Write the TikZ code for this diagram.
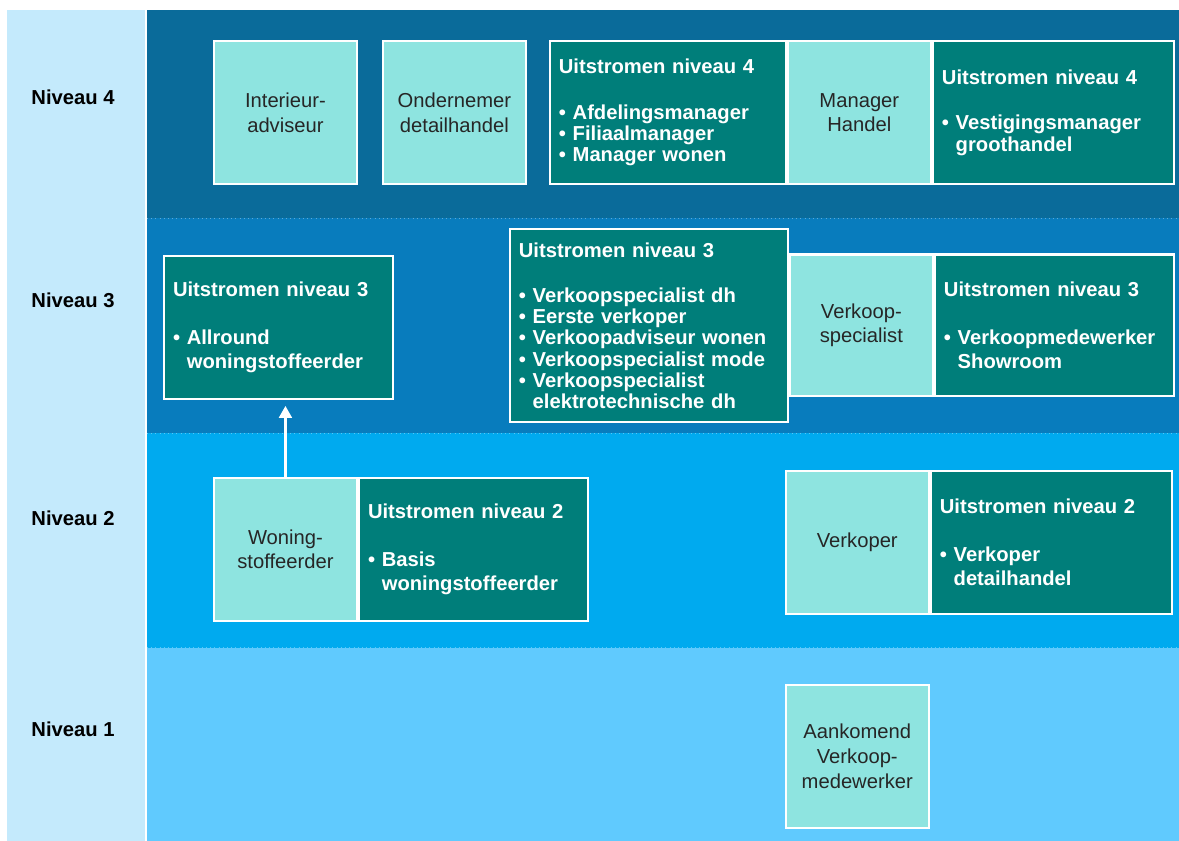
\documentclass[tikz,border=0pt]{standalone}
\usepackage{fontspec}
\setmainfont{Liberation Sans}
\usetikzlibrary{arrows.meta}
\definecolor{kolom}{HTML}{C4EAFC}
\definecolor{niv4}{HTML}{0A6B9A}
\definecolor{niv3}{HTML}{087CBD}
\definecolor{niv2}{HTML}{00AAEF}
\definecolor{niv1}{HTML}{60CAFE}
\definecolor{beroep}{HTML}{8EE4E0}
\definecolor{uitstroom}{HTML}{007E7A}
\newcommand{\punt}{\textbullet\ }
\newcommand{\verder}{\phantom{\textbullet\ }}
\tikzset{
  beroepvak/.style={draw=white, line width=1.2pt, fill=beroep, text=black!85,
    align=center, inner sep=0pt, minimum width=2.86cm, minimum height=2.86cm,
    font=\fontsize{11.5}{14}\selectfont},
  uitvak/.style={draw=white, line width=1.2pt, fill=uitstroom, text=white,
    align=left, text width=#1, inner xsep=0.18cm, inner ysep=0pt,
    minimum height=2.86cm, font=\bfseries\fontsize{11.5}{12}\selectfont},
  ruim/.style={font=\bfseries\fontsize{11.5}{13.6}\selectfont},
  niveaulabel/.style={font=\bfseries\fontsize{11.5}{14}\selectfont},
  bandgrens/.style={white, opacity=0.35, line width=0.4pt, dotted}
}
\begin{document}
\begin{tikzpicture}[x=0.02cm, y=-0.02cm]
  % Achtergrond en niveaubanden
  \fill[white] (0,0) rectangle (1179,841);
  \fill[kolom] (7,10) rectangle (145,841);
  \fill[niv4] (147,10) rectangle (1179,218);
  \fill[niv3] (147,218) rectangle (1179,433);
  \fill[niv2] (147,433) rectangle (1179,648);
  \fill[niv1] (147,648) rectangle (1179,841);
  \foreach \y in {218,433,648}
    \draw[bandgrens] (147,\y) -- (1179,\y);
  % Niveaus
  \node[niveaulabel] (label4) at (73,97) {Niveau 4};
  \node[niveaulabel] (label3) at (73,300) {Niveau 3};
  \node[niveaulabel] (label2) at (73,518) {Niveau 2};
  \node[niveaulabel] (label1) at (73,729) {Niveau 1};
  % Niveau 4
  \node[beroepvak, anchor=north west] (interieur) at (213,40) {Interieur-\\adviseur};
  \node[beroepvak, anchor=north west] (ondernemer) at (382,40) {Ondernemer\\detailhandel};
  \node[uitvak=4.36cm, anchor=north west] (uit4links) at (549,40)
    {Uitstromen niveau 4\\[14pt]\punt Afdelingsmanager\\\punt Filiaalmanager\\\punt Manager wonen};
  \node[beroepvak, anchor=north west] (manager) at (uit4links.north east) {Manager\\Handel};
  \node[uitvak=4.46cm, anchor=north west] (uit4rechts) at (manager.north east)
    {Uitstromen niveau 4\\[14pt]\punt Vestigingsmanager\\\verder groothandel};
  % Niveau 3
  \node[uitvak=4.22cm, ruim, anchor=north west] (uit3links) at (163,255)
    {Uitstromen niveau 3\\[14pt]\punt Allround\\\verder woningstoffeerder};
  \node[uitvak=5.20cm, minimum height=3.86cm, anchor=north west] (uit3midden) at (509,228)
    {Uitstromen niveau 3\\[14pt]\punt Verkoopspecialist dh\\\punt Eerste verkoper\\
     \punt Verkoopadviseur wonen\\\punt Verkoopspecialist mode\\\punt Verkoopspecialist\\
     \verder elektrotechnische dh};
  \node[beroepvak, minimum height=2.84cm, anchor=west] (verkoopspec) at (uit3midden.east) {Verkoop-\\specialist};
  \node[uitvak=4.42cm, ruim, minimum height=2.84cm, anchor=west] (uit3rechts) at (verkoopspec.east)
    {Uitstromen niveau 3\\[14pt]\punt Verkoopmedewerker\\\verder Showroom};
  % Niveau 2
  \node[beroepvak, anchor=north west] (woning) at (213,477) {Woning-\\stoffeerder};
  \node[uitvak=4.22cm, ruim, anchor=west] (uit2links) at (woning.east)
    {Uitstromen niveau 2\\[14pt]\punt Basis\\\verder woningstoffeerder};
  \node[beroepvak, anchor=north west] (verkoper) at (785,470) {Verkoper};
  \node[uitvak=4.46cm, ruim, anchor=west] (uit2rechts) at (verkoper.east)
    {Uitstromen niveau 2\\[14pt]\punt Verkoper\\\verder detailhandel};
  % Niveau 1
  \node[beroepvak, anchor=north west] (aankomend) at (785,684) {Aankomend\\Verkoop-\\medewerker};
  % Doorstroom
  \draw[-{Triangle[width=0.26cm,length=0.24cm]}, white, line width=1.2pt, shorten >=0.12cm]
    (woning.north) -- (woning.north |- uit3links.south);
\end{tikzpicture}
\end{document}
